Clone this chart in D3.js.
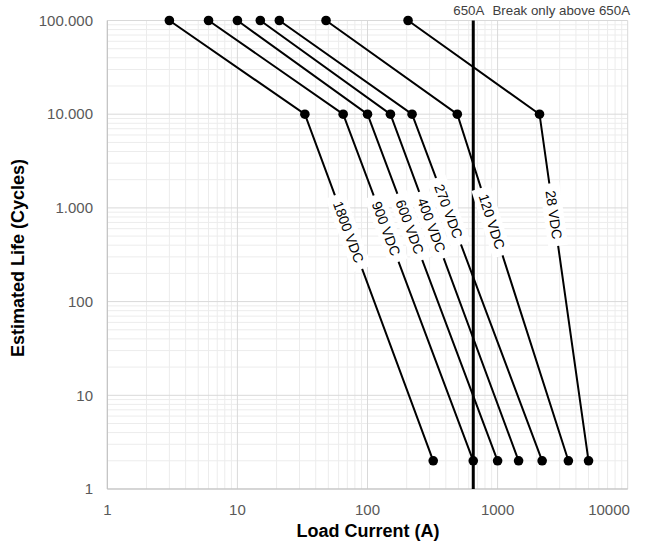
<!DOCTYPE html>
<html>
<head>
  <meta charset="utf-8" />
  <title>Estimated Life</title>
  <style>
    body { margin: 0; background: #fff; }
    svg { display: block; font-family: "Liberation Sans", Arial, sans-serif; }
  </style>
</head>
<body>
  <svg id="chart"></svg>
  <script src="https://cdn.jsdelivr.net/npm/d3@7"></script>
  <script>
    // series names (voltage) and the three points of each curve
    const voltages = ['1800 VDC', '900 VDC', '600 VDC', '400 VDC', '270 VDC', '120 VDC', '28 VDC']
    const currentAt100k = [3, 6, 10, 15, 21, 48, 205]
    const currentAt10k = [33, 65, 100, 150, 220, 490, 2100]
    const currentAt2 = [320, 650, 1000, 1450, 2200, 3500, 5000]
    const lifeLevels = [100000, 10000, 2]

    const xTicks = [1, 10, 100, 1000, 10000]
    const yTicks = [1, 10, 100, 1000, 10000, 100000]
    const breakCurrent = 650

    // where the label sits along the lower segment (0..1)
    const labelAt = [0.34, 0.33, 0.325, 0.32, 0.28, 0.31, 0.29]

    const width = 651, height = 549
    const svg = d3.select('#chart').attr('width', width).attr('height', height)

    const x = d3.scaleLog().domain([1, 10000]).range([107.3, 627.7])
    const y = d3.scaleLog().domain([1, 100000]).range([489, 20.5])

    const euro = d3.formatLocale({ decimal: ',', thousands: '.', grouping: [3], currency: ['', ''] })
    const yFmt = euro.format(',')

    // minor grid
    const minorX = [], minorY = []
    d3.range(0, 4).forEach(e => d3.range(2, 10).forEach(m => minorX.push(m * Math.pow(10, e))))
    d3.range(0, 5).forEach(e => d3.range(2, 10).forEach(m => minorY.push(m * Math.pow(10, e))))

    const grid = svg.append('g')
    grid.selectAll('.mx').data(minorX).join('line')
      .attr('x1', d => x(d)).attr('x2', d => x(d))
      .attr('y1', y(1)).attr('y2', y(100000))
      .attr('stroke', '#ececec').attr('stroke-width', 1)
    grid.selectAll('.my').data(minorY).join('line')
      .attr('y1', d => y(d)).attr('y2', d => y(d))
      .attr('x1', x(1)).attr('x2', x(10000))
      .attr('stroke', '#ececec').attr('stroke-width', 1)
    grid.selectAll('.Mx').data(xTicks).join('line')
      .attr('x1', d => x(d)).attr('x2', d => x(d))
      .attr('y1', y(1)).attr('y2', y(100000))
      .attr('stroke', '#d9d9d9').attr('stroke-width', 1)
    grid.selectAll('.My').data(yTicks).join('line')
      .attr('y1', d => y(d)).attr('y2', d => y(d))
      .attr('x1', x(1)).attr('x2', x(10000))
      .attr('stroke', '#d9d9d9').attr('stroke-width', 1)

    // axes lines
    svg.append('line').attr('x1', x(1)).attr('x2', x(1)).attr('y1', y(1)).attr('y2', y(100000))
      .attr('stroke', '#bfbfbf')
    svg.append('line').attr('x1', x(1)).attr('x2', x(10000)).attr('y1', y(1)).attr('y2', y(1))
      .attr('stroke', '#bfbfbf')

    // tick labels
    svg.append('g').selectAll('text').data(yTicks).join('text')
      .attr('x', 93).attr('y', d => y(d)).attr('dy', '0.35em')
      .attr('text-anchor', 'end').attr('font-size', 15).attr('fill', '#595959')
      .text(d => yFmt(d))
    svg.append('g').selectAll('text').data(xTicks).join('text')
      .attr('x', d => Math.min(x(d), 609)).attr('y', 515)
      .attr('text-anchor', 'middle').attr('font-size', 15).attr('fill', '#595959')
      .text(d => d)

    // axis titles
    svg.append('text').attr('x', 368).attr('y', 537).attr('text-anchor', 'middle')
      .attr('font-size', 18).attr('font-weight', 'bold').attr('fill', '#000')
      .text('Load Current (A)')
    svg.append('text').attr('transform', 'translate(24,258) rotate(-90)')
      .attr('text-anchor', 'middle').attr('font-size', 18).attr('font-weight', 'bold').attr('fill', '#000')
      .text('Estimated Life (Cycles)')

    // 650A break line
    svg.append('line').attr('x1', x(breakCurrent)).attr('x2', x(breakCurrent))
      .attr('y1', y(100000)).attr('y2', y(1)).attr('stroke', '#000').attr('stroke-width', 3)
    svg.append('text').attr('x', x(breakCurrent) - 20).attr('y', 15).attr('font-size', 13.3).attr('fill', '#404040')
      .text(breakCurrent + 'A')
    svg.append('text').attr('x', 630).attr('y', 15).attr('text-anchor', 'end').attr('font-size', 13.3).attr('fill', '#404040')
      .text('Break only above ' + breakCurrent + 'A')

    const series = voltages.map((v, i) => ({
      name: v,
      pts: [currentAt100k[i], currentAt10k[i], currentAt2[i]].map((c, j) => [c, lifeLevels[j]])
    }))

    const line = d3.line().x(d => x(d[0])).y(d => y(d[1]))

    const g = svg.append('g')
    g.selectAll('path').data(series).join('path')
      .attr('d', d => line(d.pts)).attr('fill', 'none').attr('stroke', '#000').attr('stroke-width', 2)

    series.forEach(s => {
      g.selectAll(null).data(s.pts).join('circle')
        .attr('cx', d => x(d[0])).attr('cy', d => y(d[1])).attr('r', 4.8).attr('fill', '#000')
    })

    // labels on lower segment
    series.forEach((s, i) => {
      const p1 = s.pts[1], p2 = s.pts[2]
      const x1 = x(p1[0]), y1 = y(p1[1]), x2 = x(p2[0]), y2 = y(p2[1])
      const t = labelAt[i]
      const cx = x1 + (x2 - x1) * t, cy = y1 + (y2 - y1) * t
      const ang = Math.atan2(y2 - y1, x2 - x1) * 180 / Math.PI
      const lg = svg.append('g').attr('transform', `translate(${cx},${cy}) rotate(${ang})`)
      const txt = lg.append('text').attr('text-anchor', 'middle').attr('dy', '0.35em')
        .attr('font-size', 14).attr('fill', '#000').text(s.name)
      const w = txt.node().getComputedTextLength()
      lg.insert('rect', 'text').attr('x', -w / 2 - 7).attr('y', -10).attr('width', w + 14).attr('height', 20)
        .attr('fill', '#fff')
    })
  </script>
</body>
</html>
